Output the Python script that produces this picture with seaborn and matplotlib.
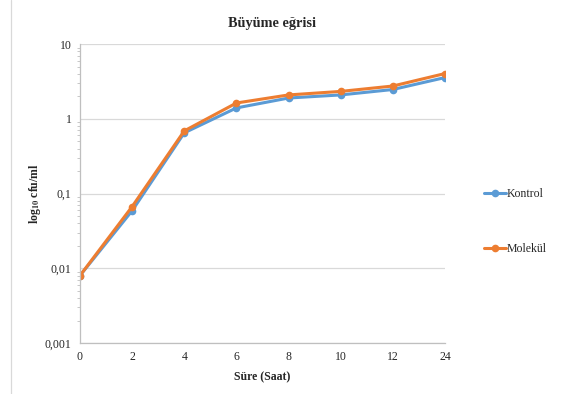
import numpy as np
import pandas as pd
import matplotlib
matplotlib.use("Agg")
import matplotlib.pyplot as plt
import matplotlib.ticker as mticker
import seaborn as sns

# data
hours = ["0", "2", "4", "6", "8", "10", "12", "24"]
kontrol = [0.008, 0.059, 0.65, 1.40, 1.90, 2.09, 2.47, 3.57]
molekul = [0.008, 0.067, 0.69, 1.63, 2.09, 2.33, 2.75, 4.04]

df = pd.DataFrame({
    "pos": list(range(len(hours))) * 2,
    "value": kontrol + molekul,
    "group": ["Kontrol"] * len(hours) + ["Molekül"] * len(hours),
})

sns.set_style("white")
plt.rcParams["font.family"] = ["Liberation Serif", "DejaVu Serif"]
plt.rcParams["mathtext.fontset"] = "stix"

fig = plt.figure(figsize=(5.61, 3.94), dpi=100)
ax = fig.add_axes([0.1426, 0.1294, 0.6506, 0.7586])

palette = {"Kontrol": "#5B9BD5", "Molekül": "#ED7D31"}
sns.lineplot(data=df, x="pos", y="value", hue="group", palette=palette,
             marker="o", markersize=5.5, markeredgewidth=0, linewidth=2.2,
             ax=ax, legend=True)

ax.set_yscale("log")
ax.set_ylim(0.001, 10)
ax.set_xlim(0, len(hours) - 1)
ax.set_xticks(range(len(hours)))
ax.set_xticklabels(hours)

ax.yaxis.set_major_locator(mticker.LogLocator(base=10, numticks=10))
ax.yaxis.set_minor_locator(mticker.LogLocator(base=10, subs=np.arange(2, 10), numticks=10))
ax.yaxis.set_minor_formatter(mticker.NullFormatter())
ax.yaxis.set_major_formatter(mticker.FuncFormatter(
    lambda v, p: ("%g" % v).replace(".", ",")))

ax.grid(axis="y", which="major", color="#D9D9D9", linewidth=0.9)
ax.grid(axis="x", visible=False)
for s in ["top", "right"]:
    ax.spines[s].set_visible(False)
for s in ["left", "bottom"]:
    ax.spines[s].set_color("#BFBFBF")
    ax.spines[s].set_linewidth(0.9)

ax.tick_params(axis="y", which="major", length=4, color="#BFBFBF", labelsize=8.5, pad=2)
ax.tick_params(axis="y", which="minor", length=2.5, color="#BFBFBF", left=True)
ax.tick_params(axis="x", length=0, labelsize=8.5, pad=6)

ax.set_xlabel("Süre (Saat)", fontsize=8.5, fontweight="bold", labelpad=6)
ax.set_ylabel(r"log$_{\mathbf{10}}$ cfu/ml", fontsize=8.5, fontweight="bold")
ax.yaxis.set_label_coords(-0.10, 0.5)

# title centred on the whole chart area (incl. legend), like Excel
fig.text(0.485, 1 - 24 / 394, "Büyüme eğrisi", ha="center", va="center",
         fontsize=10.3, fontweight="bold")

handles, labels = ax.get_legend_handles_labels()
ax.legend(handles, labels, loc="center left", bbox_to_anchor=(1.095, 0.406),
          frameon=False, fontsize=8.5, labelspacing=3.6, handlelength=1.8,
          handletextpad=0.1, borderaxespad=0)

# chart frame edge on the left
fig.add_artist(plt.Line2D([0.02, 0.02], [0, 1], color="#D9D9D9", linewidth=0.9))

fig.savefig("out.png", dpi=100)
